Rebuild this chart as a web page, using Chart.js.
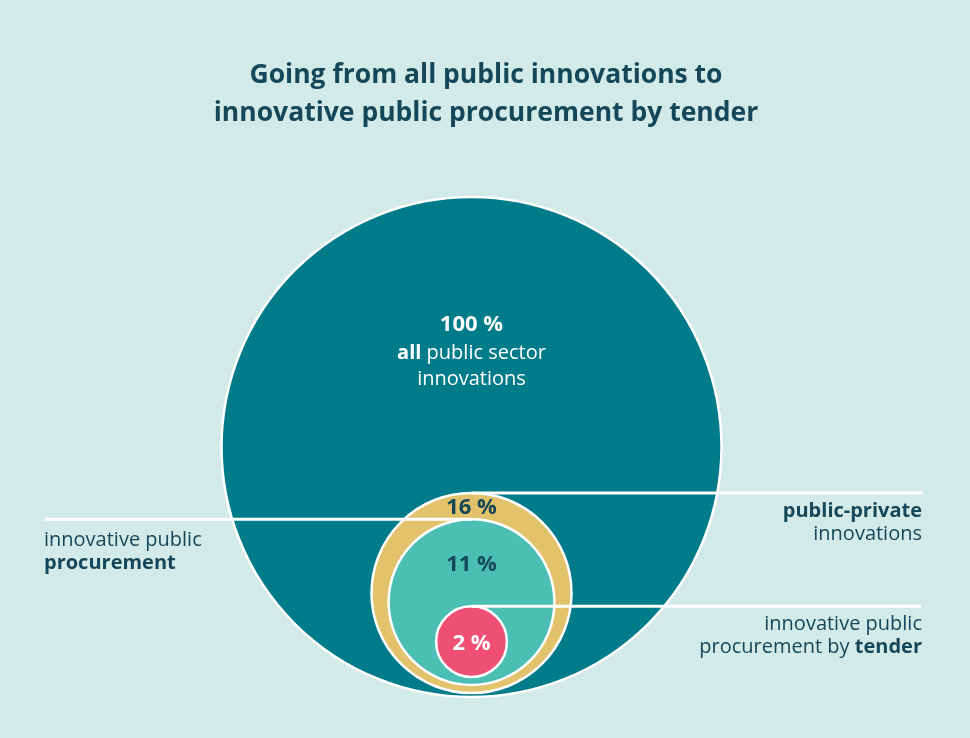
<!DOCTYPE html>
<html>
<head>
<meta charset="utf-8">
<script src="https://cdn.jsdelivr.net/npm/chart.js@4/dist/chart.umd.min.js"></script>
<style>
  html, body { margin: 0; padding: 0; background: #d3ebe8; }
  #wrap { width: 970px; height: 738px; }
</style>
</head>
<body>
<div id="wrap"><canvas id="nested"></canvas></div>
<script>
// share of all public sector innovations, outermost to innermost
const shares = [100, 16, 11, 2];
const valueLabels = ["100 %", "16 %", "11 %", "2 %"];
const categories = [
  "all public sector innovations",
  "public-private innovations",
  "innovative public procurement",
  "innovative public procurement by tender",
];
// how the description of each circle is written ([text, bold])
const descriptions = [
  [[["all", true], [" public sector", false]], [["innovations", false]]],
  [[["public-private", true]], [["innovations", false]]],
  [[["innovative public", false]], [["procurement", true]]],
  [[["innovative public", false]], [["procurement by ", false], ["tender", true]]],
];
const titleLines = [
  "Going from all public innovations to",
  "innovative public procurement by tender",
];

const fillColors = ["#007b8a", "#e2c36b", "#4cbfb5", "#ef4f74"];
const valueColors = ["#ffffff", "#15475b", "#15475b", "#ffffff"];
const dark = "#15475b";
const FONT = "'Open Sans', sans-serif";

// circles sit inside the big one, a little up from its bottom (in big-radius units)
const bottomInset = [0, 0.016, 0.048, 0.08];
const radiusUnits = shares.map((s) => Math.sqrt(s / 100));
const points = shares.map((s, i) => ({
  x: 0,
  y: i === 0 ? 0 : -1 + bottomInset[i] + radiusUnits[i],
  share: s,
}));

function drawRich(ctx, segs, x, y, align, size) {
  const widths = segs.map(([t, b]) => {
    ctx.font = (b ? "bold " : "") + size + "px " + FONT;
    return ctx.measureText(t).width;
  });
  const total = widths.reduce((a, b) => a + b, 0);
  let cx = align === "left" ? x : align === "right" ? x - total : x - total / 2;
  ctx.textAlign = "left";
  segs.forEach(([t, b], i) => {
    ctx.font = (b ? "bold " : "") + size + "px " + FONT;
    ctx.fillText(t, cx, y);
    cx += widths[i];
  });
}

const annotate = {
  id: "annotate",
  beforeDraw(chart) {
    const ctx = chart.ctx;
    ctx.save();
    ctx.fillStyle = "#d3ebe8";
    ctx.fillRect(0, 0, chart.width, chart.height);
    ctx.fillStyle = dark;
    ctx.textAlign = "center";
    ctx.textBaseline = "middle";
    ctx.font = "bold 26.5px " + FONT;
    titleLines.forEach((t, i) => ctx.fillText(t, 486, 75 + i * 38));
    ctx.restore();
  },
  afterDatasetsDraw(chart) {
    const ctx = chart.ctx;
    const pts = chart.getDatasetMeta(0).data;
    const r = (i) => pts[i].options.radius;
    if (!pts.length || !(r(0) > 0)) return;
    const top = (i) => pts[i].y - r(i);
    ctx.save();
    ctx.textBaseline = "middle";

    // leader lines from the top of a circle out to its description
    ctx.strokeStyle = "#ffffff";
    ctx.lineWidth = 3;
    const leaders = [
      { i: 1, to: 923, align: "right", tx: 922, dy: 18 },
      { i: 2, to: 45, align: "left", tx: 44, dy: 21 },
      { i: 3, to: 921, align: "right", tx: 922, dy: 18 },
    ];
    leaders.forEach((l) => {
      const y = top(l.i);
      ctx.beginPath();
      ctx.moveTo(pts[l.i].x, y);
      ctx.lineTo(l.to, y);
      ctx.stroke();
      ctx.fillStyle = dark;
      descriptions[l.i].forEach((segs, k) => {
        drawRich(ctx, segs, l.tx, y + l.dy + k * 23, l.align, 20);
      });
    });

    // value labels, each between its circle's top and the next one's top
    pts.forEach((p, i) => {
      const y0 = top(i);
      const y1 = i < pts.length - 1 ? top(i + 1) : p.y + r(i);
      ctx.fillStyle = valueColors[i];
      ctx.textAlign = "center";
      ctx.font = "bold 22px " + FONT;
      if (i === 0) {
        const mid = (y0 + y1) / 2;
        ctx.fillText(valueLabels[i], p.x, mid - 20);
        descriptions[0].forEach((segs, k) => {
          drawRich(ctx, segs, p.x, mid + 8 + k * 26, "center", 20);
        });
      } else {
        ctx.fillText(valueLabels[i], p.x, (y0 + y1) / 2 + 2);
      }
    });
    ctx.restore();
  },
};

const chart = new Chart(document.getElementById("nested"), {
  type: "bubble",
  data: {
    labels: categories,
    datasets: [
      {
        label: "Public sector innovations",
        data: points,
        backgroundColor: fillColors,
        borderColor: "#ffffff",
        borderWidth: 2.5,
        clip: false,
      },
    ],
  },
  options: {
    responsive: true,
    maintainAspectRatio: false,
    animation: false,
    events: [],
    layout: { padding: 0, autoPadding: false },
    scales: {
      x: { display: false, min: -1.886, max: 1.994 },
      y: { display: false, min: -1.164, max: 1.788 },
    },
    plugins: {
      legend: { display: false },
      tooltip: { enabled: false },
    },
  },
  plugins: [annotate],
});

// bubble radius is in pixels: area proportional to the share, 100 % = one y unit
const yScale = chart.scales.y;
const unit = Math.abs(yScale.getPixelForValue(0) - yScale.getPixelForValue(1));
chart.data.datasets[0].data.forEach((d) => {
  d.r = unit * Math.sqrt(d.share / 100);
});
chart.update();
</script>
</body>
</html>
